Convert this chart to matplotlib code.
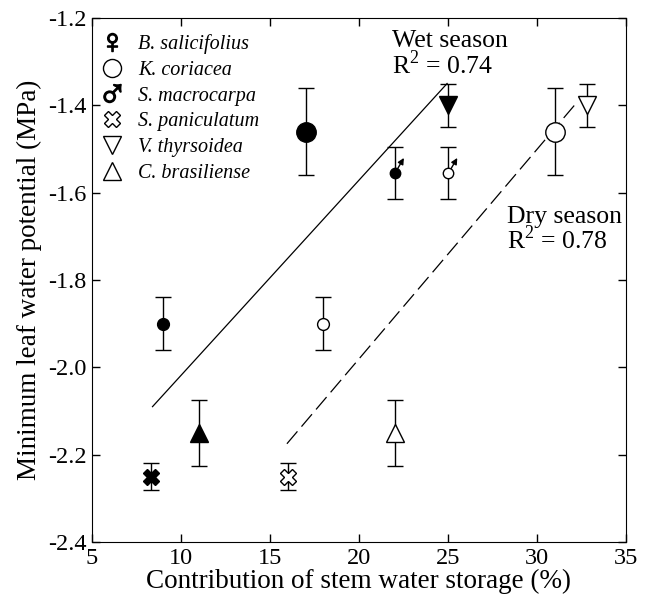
import matplotlib.pyplot as plt
import numpy as np
from matplotlib.lines import Line2D

plt.rcParams['font.family'] = ['Liberation Serif', 'DejaVu Sans']
plt.rcParams['mathtext.fontset'] = 'custom'
plt.rcParams['mathtext.rm'] = 'Liberation Serif'

# Datos por especie
especies = ['B. salicifolius', 'K. coriacea', 'S. macrocarpa',
            'S. paniculatum', 'V. thyrsoidea', 'C. brasiliense']
# Estación húmeda (símbolos rellenos)
x_humeda = [9, 17, 22, 8.3, 25, 11]
y_humeda = [-1.90, -1.46, -1.555, -2.25, -1.40, -2.15]
err_humeda = [0.06, 0.10, 0.06, 0.03, 0.05, 0.075]
# Estación seca (símbolos vacíos)
x_seca = [18, 31, 25, 16, 32.8, 22]
y_seca = [-1.90, -1.46, -1.555, -2.25, -1.40, -2.15]
err_seca = [0.06, 0.10, 0.06, 0.03, 0.05, 0.075]
# Rectas de regresión
recta_humeda_x = [8.4, 24.95]
recta_humeda_y = [-2.09, -1.35]
recta_seca_x = [15.95, 32.1]
recta_seca_y = [-2.175, -1.40]

marcadores = ['o', 'o', 'o', 'X', 'v', '^']
tamanos = [8.5, 14, 7.5, 11, 13, 13]

fig = plt.figure(figsize=(6.59, 5.99), dpi=100)
ax = fig.add_axes([92 / 659, 1 - 542 / 599, 534 / 659, 524 / 599])

ax.plot(recta_humeda_x, recta_humeda_y, 'k-', lw=0.9)
ax.plot(recta_seca_x, recta_seca_y, 'k-', lw=0.9, dashes=(13, 5))

for i in range(len(especies)):
    # Barras de error
    ax.errorbar(x_humeda[i], y_humeda[i], yerr=err_humeda[i], fmt='none',
                ecolor='k', elinewidth=1, capsize=6, capthick=1)
    ax.errorbar(x_seca[i], y_seca[i], yerr=err_seca[i], fmt='none',
                ecolor='k', elinewidth=1, capsize=6, capthick=1)
    # Marcadores
    ax.plot(x_humeda[i], y_humeda[i], marker=marcadores[i], ms=tamanos[i],
            mfc='k', mec='k', mew=1, ls='none', zorder=5)
    ax.plot(x_seca[i], y_seca[i], marker=marcadores[i], ms=tamanos[i],
            mfc='white', mec='k', mew=1, ls='none', zorder=5)
    if i == 2:
        # Flecha del símbolo masculino
        for xx in (x_humeda[i], x_seca[i]):
            ax.annotate('', xy=(xx + 0.6, y_humeda[i] + 0.04),
                        xytext=(xx + 0.1, y_humeda[i] + 0.005),
                        arrowprops=dict(arrowstyle='-|>', color='k', lw=1,
                                        mutation_scale=9), zorder=6)

ax.text(21.85, -1.228, 'Wet season\nR$^{2}$ = 0.74', fontsize=18.5,
        va='top', ha='left', linespacing=0.9)
ax.text(28.3, -1.63, 'Dry season\nR$^{2}$ = 0.78', fontsize=18.5,
        va='top', ha='left', linespacing=0.9)

# Leyenda
handles = [
    Line2D([], [], marker='$\u2640$', ms=13, color='k', ls='none'),
    Line2D([], [], marker='o', ms=13, mfc='white', mec='k', ls='none'),
    Line2D([], [], marker='$\u2642$', ms=13, color='k', ls='none'),
    Line2D([], [], marker='X', ms=12, mfc='white', mec='k', ls='none'),
    Line2D([], [], marker='v', ms=13, mfc='white', mec='k', ls='none'),
    Line2D([], [], marker='^', ms=13, mfc='white', mec='k', ls='none'),
]
ax.legend(handles, especies, loc='upper left', bbox_to_anchor=(-0.012, 1.0),
          frameon=False, prop={'style': 'italic', 'size': 14.5},
          handlelength=1.0, handletextpad=0.8, labelspacing=0.33,
          borderaxespad=0.4)

ax.set_xlim(5, 35)
ax.set_ylim(-2.4, -1.2)
ax.set_xticks(np.arange(5, 36, 5))
ax.set_yticks(np.arange(-2.4, -1.19, 0.2))
ax.set_yticklabels(['%.1f' % v for v in np.arange(-2.4, -1.19, 0.2)])
ax.tick_params(direction='in', top=True, right=True, length=6,
               labelsize=17.5, width=1, pad=4)
ax.set_xlabel('Contribution of stem water storage (%)', fontsize=19.5,
              labelpad=0)
ax.set_ylabel('Minimum leaf water potential (MPa)', fontsize=19.5,
              labelpad=4)

fig.savefig('out.png', dpi=100)
